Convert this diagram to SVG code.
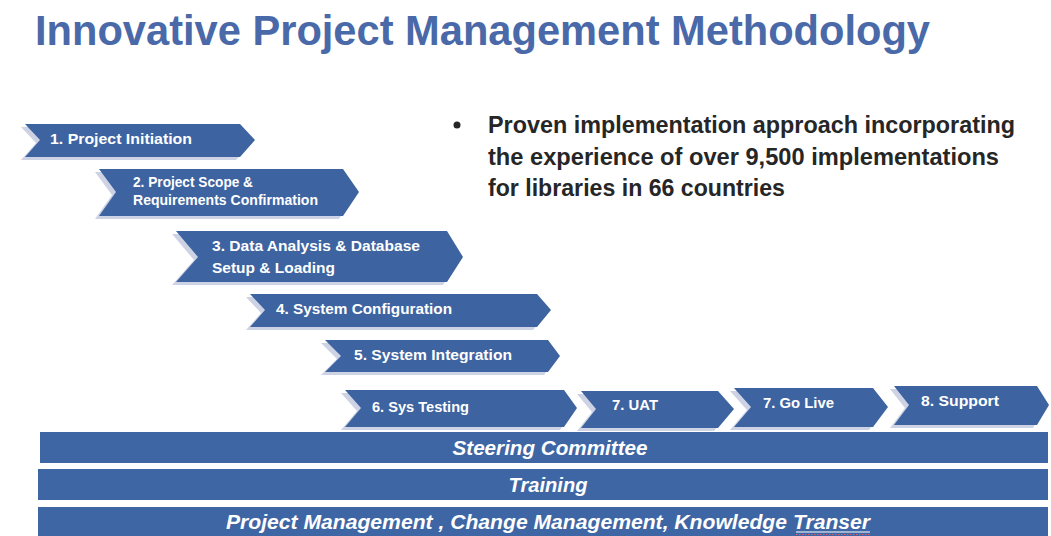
<svg xmlns="http://www.w3.org/2000/svg" width="1051" height="536" viewBox="0 0 1051 536">
<style>
.bg{fill:#ffffff}
.chev{fill:#3d63a1}
.shadow{fill:#cdd2e4}
.bar{fill:#3f66a4}
.ct{font-family:"Liberation Sans","Open Sans",sans-serif;font-weight:bold;fill:#ffffff;font-size:15px}
.bt{font-family:"Liberation Sans","Open Sans",sans-serif;font-weight:bold;font-style:italic;fill:#ffffff;font-size:20px}
.title{font-family:"Liberation Sans",Arial,sans-serif;font-weight:bold;fill:#4a69a8;font-size:42px}
.bullet{font-family:"Liberation Sans","Open Sans",sans-serif;font-weight:bold;fill:#262626;font-size:24px}
</style>
<rect class="bg" x="0" y="0" width="1051" height="536"/>
<g id="title"><text class="title" x="35" y="45" textLength="895" lengthAdjust="spacingAndGlyphs">Innovative Project Management Methodology</text></g>
<g id="bullet">
<circle cx="457" cy="125" r="3.5" fill="#262626"/>
<text class="bullet" x="488" y="133" textLength="527" lengthAdjust="spacingAndGlyphs">Proven implementation approach incorporating</text>
<text class="bullet" x="488" y="165" textLength="511" lengthAdjust="spacingAndGlyphs">the experience of over 9,500 implementations</text>
<text class="bullet" x="488" y="196" textLength="297" lengthAdjust="spacingAndGlyphs">for libraries in 66 countries</text>
</g>
<g id="step1">
<polygon class="shadow" points="21,127 236,127 252,143 236,160 21,160 36,143"/>
<polygon class="chev" points="25,124 240,124 255,140 240,157 25,157 40,140"/>
<text class="ct" x="50" y="144" textLength="142" lengthAdjust="spacingAndGlyphs">1. Project Initiation</text>
</g>
<g id="step2">
<polygon class="shadow" points="95,172 339,172 355,195 339,219 95,219 112,195"/>
<polygon class="chev" points="99,169 343,169 359,192 343,216 99,216 116,192"/>
<text class="ct" x="133" y="187" font-size="13" textLength="120" lengthAdjust="spacingAndGlyphs">2. Project Scope &amp;</text>
<text class="ct" x="133" y="205" font-size="13" textLength="185" lengthAdjust="spacingAndGlyphs">Requirements  Confirmation</text>
</g>
<g id="step3">
<polygon class="shadow" points="172,234 443,234 459,260 443,285 172,285 194,260"/>
<polygon class="chev" points="176,231 447,231 463,257 447,282 176,282 198,257"/>
<text class="ct" x="212" y="251" textLength="208" lengthAdjust="spacingAndGlyphs">3. Data Analysis &amp; Database</text>
<text class="ct" x="212" y="273" textLength="123" lengthAdjust="spacingAndGlyphs">Setup &amp; Loading</text>
</g>
<g id="step4">
<polygon class="shadow" points="246,297 533,297 547,313 533,330 246,330 261,313"/>
<polygon class="chev" points="250,294 537,294 551,310 537,327 250,327 265,310"/>
<text class="ct" x="276" y="314" textLength="176" lengthAdjust="spacingAndGlyphs">4. System Configuration</text>
</g>
<g id="step5">
<polygon class="shadow" points="321,343 544,343 556,359 544,375 321,375 337,359"/>
<polygon class="chev" points="325,340 548,340 560,356 548,372 325,372 341,356"/>
<text class="ct" x="354" y="360" textLength="158" lengthAdjust="spacingAndGlyphs">5. System Integration</text>
</g>
<g id="step6">
<polygon class="shadow" points="341,393 560,393 573,411 560,430 341,430 357,411"/>
<polygon class="chev" points="345,390 564,390 577,408 564,427 345,427 361,408"/>
<text class="ct" x="372" y="412" textLength="97" lengthAdjust="spacingAndGlyphs">6. Sys Testing</text>
</g>
<g id="step7uat">
<polygon class="shadow" points="577,394 714,394 730,412 714,431 577,431 592,412"/>
<polygon class="chev" points="581,391 718,391 734,409 718,428 581,428 596,409"/>
<text class="ct" x="612" y="410" textLength="46" lengthAdjust="spacingAndGlyphs">7. UAT</text>
</g>
<g id="step7golive">
<polygon class="shadow" points="730,391 869,391 884,410 869,430 730,430 747,410"/>
<polygon class="chev" points="734,388 873,388 888,407 873,427 734,427 751,407"/>
<text class="ct" x="763" y="408" textLength="71" lengthAdjust="spacingAndGlyphs">7. Go Live</text>
</g>
<g id="step8">
<polygon class="shadow" points="890,389 1033,389 1045,408 1033,428 890,428 905,408"/>
<polygon class="chev" points="894,386 1037,386 1049,405 1037,425 894,425 909,405"/>
<text class="ct" x="921" y="406" textLength="78" lengthAdjust="spacingAndGlyphs">8. Support</text>
</g>
<g id="steering">
<rect class="bar" x="40" y="432" width="1008" height="31"/>
<text class="bt" x="550" y="455" text-anchor="middle" textLength="195" lengthAdjust="spacingAndGlyphs">Steering Committee</text>
</g>
<g id="training">
<rect class="bar" x="38" y="469" width="1010" height="31"/>
<text class="bt" x="548" y="492" text-anchor="middle" textLength="79" lengthAdjust="spacingAndGlyphs">Training</text>
</g>
<g id="pm">
<rect class="bar" x="38" y="507" width="1010" height="29"/>
<text class="bt" x="226" y="529" textLength="644" lengthAdjust="spacingAndGlyphs">Project Management , Change Management, Knowledge Transer</text>
<line x1="796" y1="532" x2="870" y2="532" stroke="#ffffff" stroke-width="1.2"/>
<line x1="796" y1="534.5" x2="870" y2="534.5" stroke="#e05a6a" stroke-width="1.2" stroke-dasharray="1.5,1.5"/>
</g>
</svg>
